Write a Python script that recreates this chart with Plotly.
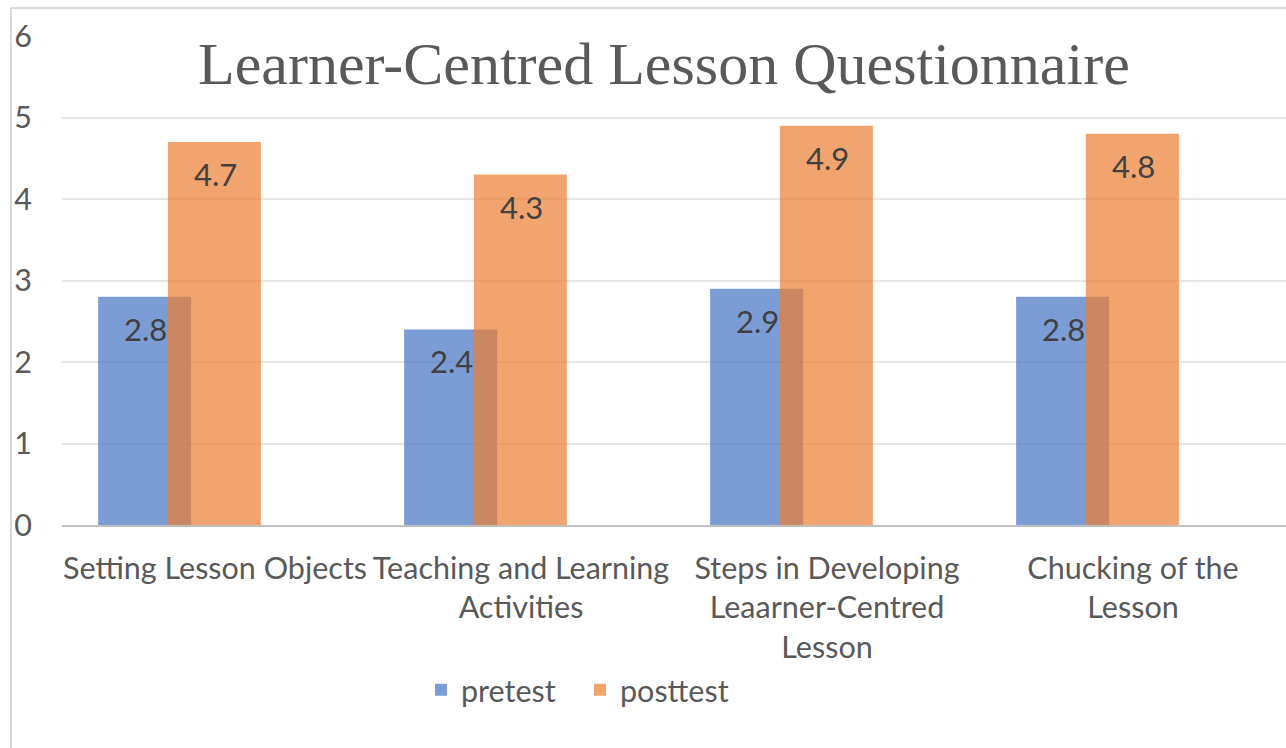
import plotly.graph_objects as go

categories = ["Setting Lesson Objects", "Teaching and Learning<br>Activities",
              "Steps in Developing<br>Leaarner-Centred<br>Lesson", "Chucking of the<br>Lesson"]
pretest = [2.8, 2.4, 2.9, 2.8]
posttest = [4.7, 4.3, 4.9, 4.8]
title_text = "Learner-Centred Lesson Questionnaire"

W, H = 1286, 748
L, R, T, B = 62, 0, 36, 223
pw, ph = W - L - R, H - T - B

def px_x(p):
    return (p - L) / pw

def px_y(p):
    return (H - B - p) / ph

fig = go.Figure()
fig.add_trace(go.Bar(
    name="pretest", x=categories, y=pretest, offset=-0.382, width=0.304,
    marker=dict(color="rgba(68,114,196,0.7)", line=dict(width=0)),
))
fig.add_trace(go.Bar(
    name="posttest", x=categories, y=posttest, offset=-0.154, width=0.304,
    marker=dict(color="rgba(237,125,49,0.7)", line=dict(width=0)),
))

annotations = []
for series, xshift in ((pretest, -70), (posttest, 0)):
    for c, v in zip(categories, series):
        annotations.append(dict(x=c, y=v, xref="x", yref="y", text=f"{v:.1f}", showarrow=False,
                                xanchor="center", yanchor="middle", xshift=xshift, yshift=-32,
                                font=dict(family="Lato", size=31, color="#404040")))
annotations.append(dict(text=title_text, xref="paper", yref="paper", x=px_x(663.5), y=px_y(64),
                        xanchor="center", yanchor="middle", showarrow=False,
                        font=dict(family="Liberation Serif", size=60, color="#595959")))

fig.update_layout(
    width=W, height=H, barmode="overlay",
    margin=dict(l=L, r=R, t=T, b=B, pad=0, autoexpand=False),
    paper_bgcolor="white", plot_bgcolor="white",
    font=dict(family="Lato", size=31, color="#595959"),
    showlegend=True,
    legend=dict(orientation="h", x=px_x(421), xanchor="left", y=px_y(690), yanchor="middle",
                font=dict(family="Lato", size=30.5, color="#595959"), bgcolor="rgba(0,0,0,0)",
                traceorder="normal", entrywidth=114, entrywidthmode="pixels"),
    xaxis=dict(type="category", range=[-0.5, 3.5], showline=True, linecolor="#BFBFBF", linewidth=2,
               showgrid=False, ticks="outside", ticklen=15, tickcolor="rgba(0,0,0,0)",
               tickangle=0, automargin=False,
               tickfont=dict(family="Lato", size=30.5, color="#595959")),
    yaxis=dict(range=[0, 6], dtick=1, showgrid=True, gridcolor="#E6E6E6", gridwidth=1.5,
               zeroline=False, ticks="outside", ticklen=23, tickcolor="rgba(0,0,0,0)",
               automargin=False,
               tickfont=dict(family="Lato", size=30.5, color="#595959")),
    annotations=annotations,
    shapes=[
        dict(type="line", xref="paper", yref="paper", x0=px_x(11), x1=px_x(11), y0=px_y(8), y1=px_y(800),
             line=dict(color="#D9D9D9", width=2)),
        dict(type="line", xref="paper", yref="paper", x0=px_x(11), x1=px_x(1300), y0=px_y(8), y1=px_y(8),
             line=dict(color="#D9D9D9", width=2)),
    ],
)
fig.write_html("out.html", config={"displayModeBar": False},
               post_script="document.body.style.margin='0';")
